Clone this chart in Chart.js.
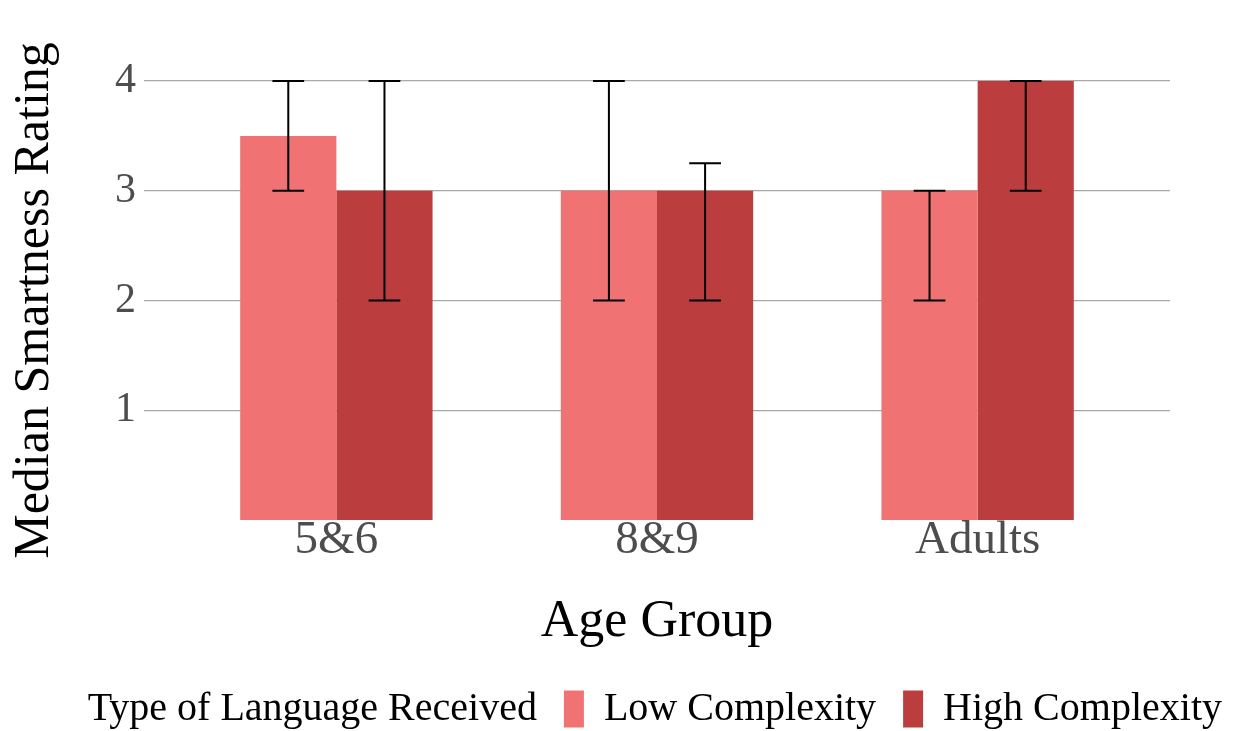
<!DOCTYPE html>
<html>
<head>
<meta charset="utf-8">
<script src="https://cdn.jsdelivr.net/npm/chart.js@4.4.1/dist/chart.umd.min.js"></script>
<style>
  html, body { margin: 0; padding: 0; background: #ffffff; }
  #wrap { width: 1233px; height: 731px; position: relative; }
</style>
</head>
<body>
<div id="wrap"><canvas id="c"></canvas></div>
<script>
const categories = ['5&6', '8&9', 'Adults'];
const seriesNames = ['Low Complexity', 'High Complexity'];
const lowValues = [3.5, 3, 3];
const lowErrLower = [3, 2, 2];
const lowErrUpper = [4, 4, 3];
const highValues = [3, 3, 4];
const highErrLower = [2, 2, 3];
const highErrUpper = [4, 3.25, 4];
const yTickValues = [1, 2, 3, 4];
const legendTitle = 'Type of Language Received';

const FONT = "'Liberation Serif', 'Times New Roman', serif";
const LOW_COLOR = '#F07272';
const HIGH_COLOR = '#BC3D3D';

const errorBars = [
  { lower: lowErrLower, upper: lowErrUpper },
  { lower: highErrLower, upper: highErrUpper }
];

const errorBarPlugin = {
  id: 'errorBars',
  afterDatasetsDraw(chart) {
    const ctx = chart.ctx;
    const yScale = chart.scales.y;
    ctx.save();
    ctx.strokeStyle = '#000000';
    ctx.lineWidth = 2;
    chart.data.datasets.forEach((ds, di) => {
      const meta = chart.getDatasetMeta(di);
      const eb = errorBars[di];
      meta.data.forEach((bar, i) => {
        const x = bar.x;
        const yLo = yScale.getPixelForValue(eb.lower[i]);
        const yHi = yScale.getPixelForValue(eb.upper[i]);
        const half = bar.width * 0.165;
        ctx.beginPath();
        ctx.moveTo(x, yLo); ctx.lineTo(x, yHi);
        ctx.moveTo(x - half, yLo); ctx.lineTo(x + half, yLo);
        ctx.moveTo(x - half, yHi); ctx.lineTo(x + half, yHi);
        ctx.stroke();
      });
    });
    ctx.restore();
  }
};

const legendTitlePlugin = {
  id: 'legendTitleInline',
  afterDraw(chart) {
    const lg = chart.legend;
    if (!lg || !lg.legendHitBoxes || !lg.legendHitBoxes.length) return;
    const hb = lg.legendHitBoxes[0];
    const ctx = chart.ctx;
    ctx.save();
    ctx.font = "40px " + FONT;
    ctx.fillStyle = '#000000';
    ctx.textAlign = 'right';
    ctx.textBaseline = 'middle';
    ctx.fillText(legendTitle, hb.left - 27, hb.top + hb.height / 2);
    ctx.restore();
  }
};

const toPoints = (vals) => vals.map((v, i) => ({ x: i + 1, y: v }));

new Chart(document.getElementById('c'), {
  type: 'bar',
  data: {
    datasets: [
      { label: seriesNames[0], data: toPoints(lowValues), backgroundColor: LOW_COLOR,
        categoryPercentage: 0.6, barPercentage: 1.0, borderWidth: 0 },
      { label: seriesNames[1], data: toPoints(highValues), backgroundColor: HIGH_COLOR,
        categoryPercentage: 0.6, barPercentage: 1.0, borderWidth: 0 }
    ]
  },
  options: {
    responsive: true,
    maintainAspectRatio: false,
    animation: false,
    layout: { padding: { top: 81, right: -16, left: 0, bottom: -8 } },
    scales: {
      x: {
        type: 'linear',
        offset: false,
        min: 0.4,
        max: 3.6,
        afterBuildTicks(scale) { scale.ticks = categories.map((c, i) => ({ value: i + 1 })); },
        ticks: {
          callback: (v) => categories[Math.round(v) - 1] || '',
          font: { family: FONT, size: 47, lineHeight: 1 },
          color: '#4D4D4D',
          padding: -3,
          maxRotation: 0,
          autoSkip: false
        },
        grid: { display: false, drawTicks: false, offset: false },
        border: { display: false },
        title: {
          display: true,
          text: 'Age Group',
          font: { family: FONT, size: 52, lineHeight: 1 },
          color: '#000000',
          padding: { top: 35, bottom: 14 }
        }
      },
      y: {
        min: 0,
        max: 4,
        afterBuildTicks(scale) { scale.ticks = yTickValues.map(v => ({ value: v })); },
        ticks: {
          font: { family: FONT, size: 42 },
          color: '#4D4D4D',
          padding: 8
        },
        grid: { color: '#A8A8A8', lineWidth: 1.3, drawTicks: false },
        border: { display: false },
        title: {
          display: true,
          text: 'Median Smartness Rating',
          font: { family: FONT, size: 50, lineHeight: 1 },
          color: '#000000',
          padding: { top: 10, bottom: 47 }
        }
      },
      y2: {
        position: 'right',
        display: true,
        ticks: { display: false },
        grid: { display: false, drawTicks: false },
        border: { display: false },
        afterFit(scale) { scale.width = 79; }
      }
    },
    plugins: {
      tooltip: { enabled: false },
      legend: {
        position: 'bottom',
        align: 'end',
        onClick: () => {},
        labels: {
          font: { family: FONT, size: 40 },
          color: '#000000',
          boxWidth: 20,
          boxHeight: 37,
          padding: 27
        }
      }
    }
  },
  plugins: [errorBarPlugin, legendTitlePlugin]
});
</script>
</body>
</html>
